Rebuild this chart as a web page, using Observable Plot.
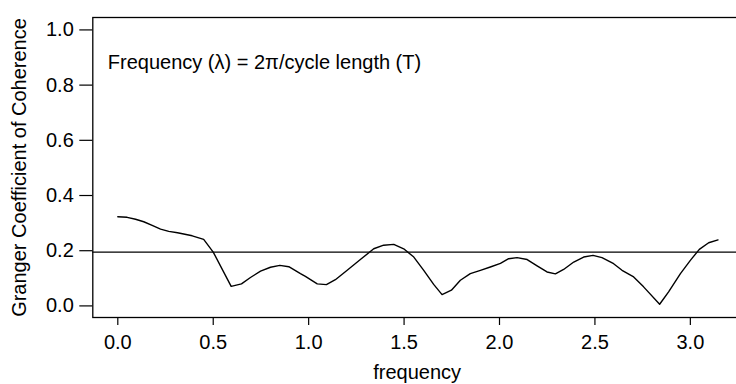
<!DOCTYPE html>
<html>
<head>
<meta charset="utf-8">
<script src="https://cdn.jsdelivr.net/npm/d3@7"></script>
<script src="https://cdn.jsdelivr.net/npm/@observablehq/plot@0.6"></script>
<style>
  html, body { margin: 0; padding: 0; background: #fff; overflow: hidden; }
  #chart svg { display: block; }
</style>
</head>
<body>
<div id="chart"></div>
<script>
// Frequency values (radians)
const frequency = [
  0.000, 0.049, 0.093, 0.136, 0.180, 0.224, 0.267, 0.313, 0.390, 0.450,
  0.500, 0.594, 0.648, 0.695, 0.748, 0.800, 0.849, 0.896, 0.957, 0.983,
  1.045, 1.093, 1.140, 1.202, 1.271, 1.341, 1.393, 1.446, 1.498, 1.551,
  1.603, 1.655, 1.699, 1.748, 1.795, 1.847, 1.900, 1.952, 2.005, 2.048,
  2.092, 2.145, 2.197, 2.249, 2.293, 2.336, 2.389, 2.441, 2.490, 2.537,
  2.598, 2.642, 2.703, 2.755, 2.839, 2.886, 2.948, 3.000, 3.047, 3.096,
  3.145
];
// Granger coefficient of coherence at each frequency
const coherence = [
  0.323, 0.321, 0.314, 0.305, 0.292, 0.278, 0.270, 0.265, 0.254, 0.241,
  0.195, 0.071, 0.080, 0.103, 0.126, 0.140, 0.147, 0.142, 0.117, 0.107,
  0.080, 0.077, 0.095, 0.129, 0.168, 0.207, 0.220, 0.223, 0.207, 0.177,
  0.129, 0.078, 0.041, 0.057, 0.093, 0.117, 0.129, 0.141, 0.154, 0.171,
  0.175, 0.168, 0.145, 0.123, 0.116, 0.132, 0.159, 0.177, 0.183, 0.175,
  0.153, 0.129, 0.105, 0.069, 0.006, 0.051, 0.117, 0.165, 0.205, 0.229,
  0.239
];
const threshold = [0.195];
const xTicks = [0, 0.5, 1.0, 1.5, 2.0, 2.5, 3.0];
const yTicks = [0, 0.2, 0.4, 0.6, 0.8, 1.0];
const xLabel = "frequency";
const yLabel = "Granger Coefficient of Coherence";
const note = "Frequency (\u03BB) = 2\u03C0/cycle length (T)";

const data = frequency.map((f, i) => ({f, c: coherence[i]}));

const chart = Plot.plot({
  width: 736,
  height: 384,
  marginLeft: 92.3,
  marginRight: -5,
  marginTop: 17,
  marginBottom: 67,
  style: {fontFamily: "'Liberation Sans', Arial, Helvetica, sans-serif", fontSize: "20px", background: "#fff", color: "#000"},
  x: {domain: [-0.131, 3.268]},
  y: {domain: [-0.042, 1.045]},
  marks: [
    Plot.frame({stroke: "#000", strokeWidth: 1.3}),
    Plot.axisX(xTicks, {tickSize: 8, tickPadding: 9, tickFormat: d3.format(".1f"), label: null, strokeWidth: 1.2, fontSize: 20}),
    Plot.axisY(yTicks, {tickSize: 13, tickPadding: 6, tickFormat: d3.format(".1f"), label: null, strokeWidth: 1.2, fontSize: 20}),
    Plot.ruleY(threshold, {stroke: "#000", strokeWidth: 1.3}),
    Plot.line(data, {x: "f", y: "c", stroke: "#000", strokeWidth: 1.4}),
    Plot.text([yLabel], {frameAnchor: "left", dx: -73, rotate: -90, textAnchor: "middle", lineAnchor: "middle", fontSize: 20, fill: "#000"}),
    Plot.text([xLabel], {frameAnchor: "bottom", dy: 55, textAnchor: "middle", lineAnchor: "middle", fontSize: 20, fill: "#000"}),
    Plot.text([note], {frameAnchor: "top-left", dx: 15, dy: 45, textAnchor: "start", lineAnchor: "middle", fontSize: 20, fill: "#000"})
  ]
});
document.getElementById("chart").appendChild(chart);
</script>
</body>
</html>
